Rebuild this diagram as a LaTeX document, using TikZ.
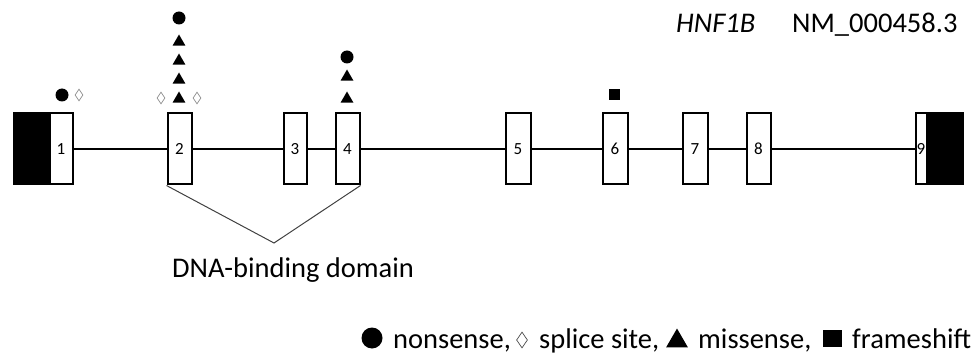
\documentclass[tikz,border=0pt]{standalone}
\usepackage{fontspec}
\setmainfont{Carlito}
\usetikzlibrary{shapes.geometric}
\tikzset{
  exon/.style={draw, line width=2pt, fill=white, minimum height=71pt, inner sep=0pt, font=\fontsize{17}{17}\selectfont},
  utr/.style={draw, line width=2pt, fill=black, minimum height=71pt, inner sep=0pt},
  intron/.style={line width=2pt},
  domline/.style={line width=1pt, draw=black!75},
  nons/.style={circle, fill=black, minimum size=13pt, inner sep=0pt},
  miss/.style={regular polygon, regular polygon sides=3, fill=black, minimum size=15pt, inner sep=0pt},
  splice/.style={diamond, draw=black!45, line width=0.7pt, minimum width=8pt, minimum height=12pt, inner sep=0pt},
  fshift/.style={rectangle, fill=black, minimum size=11pt, inner sep=0pt},
  big/.style={font=\fontsize{28.5}{28.5}\selectfont, inner sep=0pt}
}
\begin{document}
\begin{tikzpicture}[x=1pt,y=-1pt]
\useasboundingbox (0,0) rectangle (974,358);
% exons
\node[utr, minimum width=35pt] (u5) at (31,149) {};
\node[exon, minimum width=23pt] (e1) at (61,149) {1};
\node[exon, minimum width=24pt] (e2) at (179.5,149) {2};
\node[exon, minimum width=23pt] (e3) at (295,149) {3};
\node[exon, minimum width=24pt] (e4) at (347.5,149) {4};
\node[exon, minimum width=25pt] (e5) at (518,149) {5};
\node[exon, minimum width=25pt] (e6) at (615,149) {6};
\node[exon, minimum width=25pt] (e7) at (695,149) {7};
\node[exon, minimum width=24pt] (e8) at (758.5,149) {8};
\node[utr, minimum width=35pt] (u3) at (945,149) {};
\node[exon, minimum width=11pt] (e9) at (921,149) {9};
% introns
\draw[intron] (e1.east) -- (e2.west);
\draw[intron] (e2.east) -- (e3.west);
\draw[intron] (e3.east) -- (e4.west);
\draw[intron] (e4.east) -- (e5.west);
\draw[intron] (e5.east) -- (e6.west);
\draw[intron] (e6.east) -- (e7.west);
\draw[intron] (e7.east) -- (e8.west);
\draw[intron] (e8.east) -- (e9.west);
% DNA-binding domain
\coordinate (apex) at (274,243);
\draw[domline] (e2.south west) -- (apex) -- (e4.south east);
\node[big, anchor=base west] (dbd) at (172,277) {DNA-binding domain};
% mutations exon 1
\node[nons] (m1a) at (62,95) {};
\node[splice] (m1b) at (79,95) {};
% exon 2
\node[splice] (m2a) at (161,98) {};
\node[splice] (m2b) at (197,98) {};
\node[miss] (m2c) at (179,99) {};
\node[miss] (m2d) at (179,80) {};
\node[miss] (m2e) at (179,61) {};
\node[miss] (m2f) at (179,42) {};
\node[nons] (m2g) at (179,18) {};
% exon 4
\node[miss] (m4a) at (347,99) {};
\node[miss] (m4b) at (347,77) {};
\node[nons] (m4c) at (347,57) {};
% exon 6
\node[fshift] (m6a) at (614,95) {};
% title
\node[big, anchor=base west] (gene) at (676,33) {\itshape HNF1B};
\node[big, anchor=base west] (acc) at (792,33) {NM\_000458.3};
% legend
\node[nons, minimum size=21pt] (lg1) at (372,338) {};
\node[big, anchor=base west] (lt1) at (393,348) {nonsense,};
\node[splice, draw=black!70, minimum width=11pt, minimum height=16pt] (lg2) at (522,340) {};
\node[big, anchor=base west] (lt2) at (539,348) {splice site,};
\node[miss, minimum size=25pt] (lg3) at (677,341) {};
\node[big, anchor=base west] (lt3) at (698,348) {missense,};
\node[fshift, minimum width=19pt, minimum height=17pt] (lg4) at (832,338.5) {};
\node[big, anchor=base west] (lt4) at (852,348) {frameshift};
\end{tikzpicture}
\end{document}
